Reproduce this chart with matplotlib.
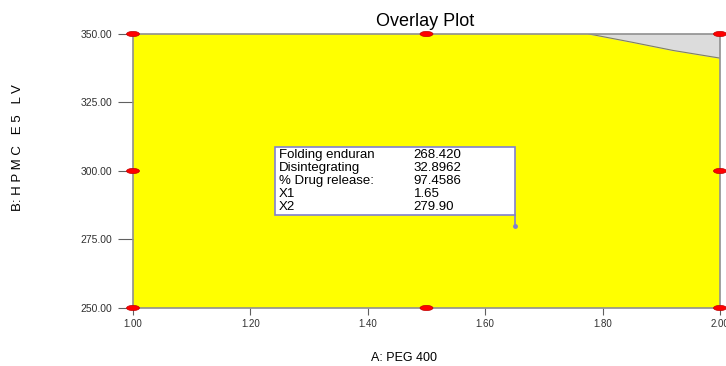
import numpy as np
import matplotlib.pyplot as plt
from matplotlib.patches import Rectangle, Ellipse

plt.rcParams['font.family'] = ['Liberation Sans', 'DejaVu Sans']

# design points (A: PEG 400, B: HPMC E5 LV)
design_a = [1.00, 1.00, 1.00, 1.50, 1.50, 2.00, 2.00, 2.00]
design_b = [250.0, 300.0, 350.0, 250.0, 350.0, 250.0, 300.0, 350.0]

# boundary of the grey (non-feasible) corner region
grey_a = [1.777, 1.85, 1.92, 2.00]
grey_b = [350.0, 347.0, 344.0, 341.2]

# flagged optimum
flag_a = 1.65
flag_b = 279.90
flag_labels = ['Folding enduran', 'Disintegrating', '% Drug release:', 'X1', 'X2']
flag_values = ['268.420', '32.8962', '97.4586', '1.65', '279.90']

xticks = [1.00, 1.20, 1.40, 1.60, 1.80, 2.00]
yticks = [250.0, 275.0, 300.0, 325.0, 350.0]

fig = plt.figure(figsize=(7.26, 3.66), dpi=100)
ax = fig.add_axes([0.1832, 0.1585, 0.8085, 0.7486])
ax.set_xlim(1.0, 2.0)
ax.set_ylim(250, 350)

# feasible (yellow) region
ax.add_patch(Rectangle((1.0, 250), 1.0, 100, facecolor='#ffff00', edgecolor='none', zorder=0))
poly_x = grey_a + [2.0]
poly_y = grey_b + [350.0]
ax.fill(poly_x, poly_y, color='#dcdcdc', zorder=1)
ax.plot(grey_a, grey_b, color='#808060', lw=0.8, zorder=2)

for s in ax.spines.values():
    s.set_color('#909090')
    s.set_linewidth(1.2)

ax.set_xticks(xticks)
ax.set_xticklabels(['%.2f' % v for v in xticks])
ax.set_yticks(yticks)
ax.set_yticklabels(['%.2f' % v for v in yticks])
ax.tick_params(axis='x', direction='out', length=5, width=0.8, color='#606060',
               labelsize=7, pad=3, labelcolor='#303030')
ax.tick_params(axis='y', direction='out', length=10.8, width=0.8, color='#606060',
               labelsize=7.5, pad=4, labelcolor='#303030')

# design points as red ellipses
for a, b in zip(design_a, design_b):
    ax.add_patch(Ellipse((a, b), 0.022, 1.9, facecolor='#ff0000', edgecolor='#c00000',
                         lw=0.5, zorder=5, clip_on=False))

# flag box
box_x0, box_x1 = 1.242, flag_a
box_y0, box_y1 = 283.9, 308.8
ax.add_patch(Rectangle((box_x0, box_y0), box_x1 - box_x0, box_y1 - box_y0,
                       facecolor='white', edgecolor='#8080d0', lw=1.2, zorder=6))
ax.plot([flag_a, flag_a], [box_y0, flag_b], color='#8080d0', lw=1.2, zorder=6)
ax.plot(flag_a, flag_b, marker='o', ms=2.5, color='#8080d0', zorder=7)
row_y = np.linspace(305.8, 286.9, len(flag_labels))
for lab, val, yy in zip(flag_labels, flag_values, row_y):
    ax.text(box_x0 + 0.006, yy, lab, fontsize=9.5, va='center', zorder=8)
    ax.text(1.478, yy, val, fontsize=9.5, va='center', zorder=8)

fig.text(0.586, 0.94, 'Overlay Plot', fontsize=13, ha='center', va='center')
fig.text(0.557, 0.022, 'A: PEG 400', fontsize=9, ha='center', va='center')
fig.text(0.025, 0.596, 'B: H P M C   E 5   L V', fontsize=9.5, rotation=90, ha='center', va='center')

fig.savefig('out.png', dpi=100)
